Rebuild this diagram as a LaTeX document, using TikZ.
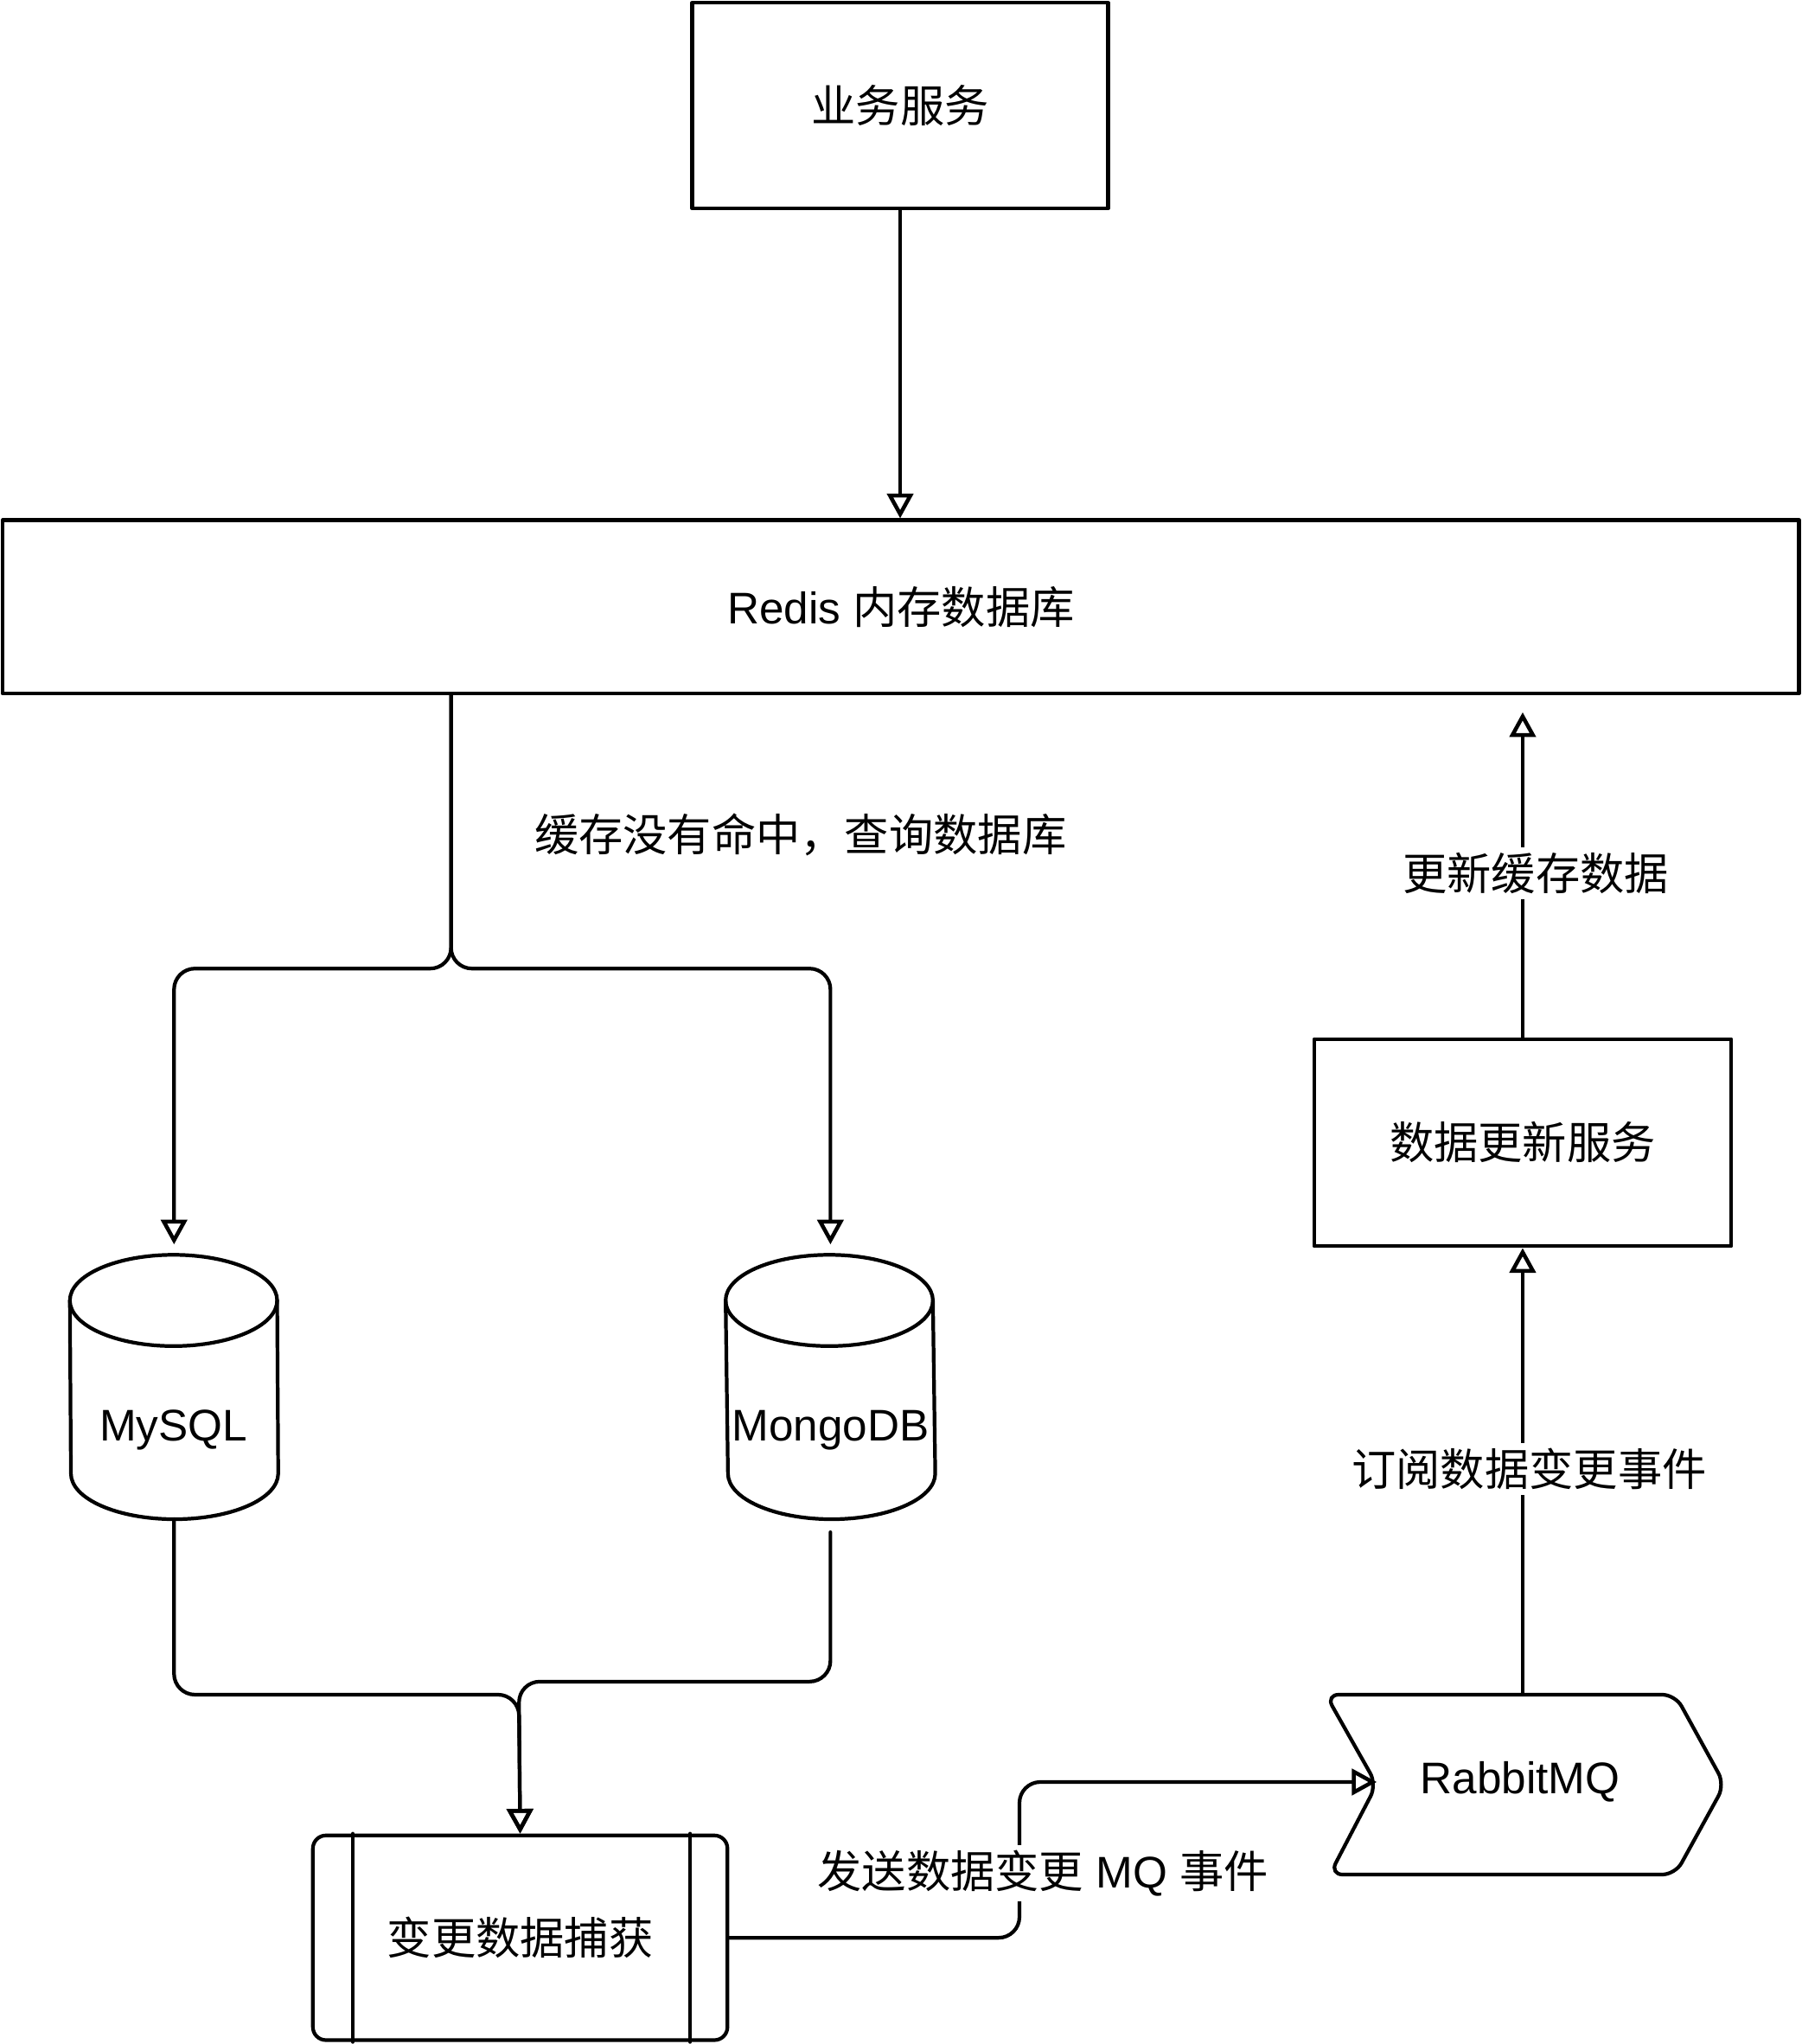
\documentclass[tikz,border=0pt]{standalone}
\usepackage{fontspec}
\setmainfont{Liberation Sans}
\newfontfamily\cjk{Noto Sans CJK SC}
\usetikzlibrary{arrows.meta,calc}
\begin{document}
\begin{tikzpicture}[x=0.5pt,y=-0.5pt,
  every node/.style={font=\fontsize{17pt}{20pt}\selectfont, inner sep=0pt},
  line/.style={line width=1.4pt, line join=round, line cap=round},
  box/.style={line, draw, fill=white},
  arr/.style={line, -{Triangle[open,length=9.5pt,width=10pt,line width=1.5pt]}, rounded corners=8pt},
  conn/.style={line, rounded corners=8pt},
  lbl/.style={fill=white, inner sep=2pt}
]
\useasboundingbox (0,0) rectangle (1382,1568);

% nodes
\node[box, minimum width=159.5pt, minimum height=79pt] (biz) at (690.5,81) {\cjk 业务服务};
\node[box, minimum width=689pt, minimum height=66.5pt] (redis) at (691,465.5) {Redis {\cjk 内存数据库}};
\node[box, minimum width=160pt, minimum height=79.5pt] (upd) at (1168,876.5) {\cjk 数据更新服务};
\node[box, rounded corners=5pt, minimum width=159pt, minimum height=78.5pt] (cdc) at (399,1486.5) {\cjk 变更数据捕获};
\draw[line] ([xshift=16pt]cdc.north west) -- ([xshift=16pt]cdc.south west);
\draw[line] ([xshift=-15pt]cdc.north east) -- ([xshift=-15pt]cdc.south east);

% cylinders
\node[minimum width=79.5pt, minimum height=101pt] (mysql) at (133.5,1064) {};
\node[minimum width=80pt, minimum height=101pt] (mongo) at (637,1064) {};
\foreach \n in {mysql,mongo}{
  \draw[line] ([yshift=-17.5pt]\n.north west) arc[start angle=180, end angle=0, x radius=39.75pt, y radius=17.5pt]
     -- ([yshift=17.5pt]\n.south east) arc[start angle=0, end angle=-180, x radius=39.75pt, y radius=17.5pt] -- cycle;
  \draw[line] ([yshift=-17.5pt]\n.north west) arc[start angle=180, end angle=360, x radius=39.75pt, y radius=17.5pt];
}
\node (mysqlt) at (133,1097) {MySQL};
\node (mongot) at (637,1097) {MongoDB};

% RabbitMQ step shape
\node (mq) at (1166,1367) {RabbitMQ};
\draw[line, rounded corners=5pt] (1017,1300) -- (1285,1300) -- (1323,1369) -- (1285,1438) -- (1020,1438) -- (1056,1369) -- cycle;
\coordinate (mqin) at (1056,1367);
\coordinate (mqtop) at (1168,1300);

% coordinates for routing
\coordinate (split) at (346,743);
\coordinate (j1) at (398,1300);
\coordinate (j2) at (398,1290);
\coordinate (bend) at (782,1367);

% connectors
\draw[arr] (biz.south) -- (biz.south |- redis.north);
\draw[arr, shorten >=4pt] (split |- redis.south) -- (split) -| (mysql.north);
\draw[arr, shorten >=4pt] (split |- redis.south) -- (split) -| (mongo.north);
\draw[arr] (mysql.south) |- (j1) -- (cdc.north);
\draw[arr] ([yshift=-5pt]mongo.south) |- (j2) -- (cdc.north);
\draw[arr] (cdc.east) -| (bend) -- (mqin);
\draw[arr] (mqtop) -- (mqtop |- upd.south);
\draw[arr, shorten >=6.5pt] (upd.north) -- (upd.north |- redis.south);

% labels
\node (l1) at (614,640) {\cjk 缓存没有命中，查询数据库};
\node[lbl] (l2) at (800,1437) {{\cjk 发送数据变更} MQ {\cjk 事件}};
\node[lbl] (l3) at (1173,1127) {\cjk 订阅数据变更事件};
\node[lbl] (l4) at (1178,670) {\cjk 更新缓存数据};
\end{tikzpicture}
\end{document}
